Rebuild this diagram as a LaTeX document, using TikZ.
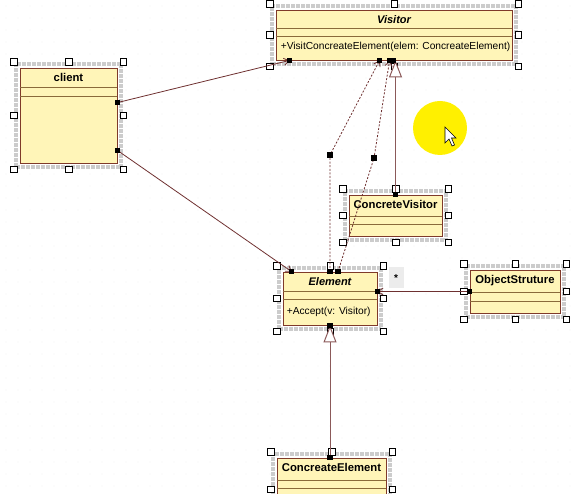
\documentclass[tikz,border=0pt]{standalone}
\usepackage{fontspec}
\setmainfont{Liberation Sans}
\usetikzlibrary{positioning, fit, calc, arrows.meta}
\definecolor{classfill}{HTML}{FFF5B8}
\definecolor{classline}{HTML}{7F3A2A}
\definecolor{sepline}{HTML}{8A6A3A}
\definecolor{wire}{HTML}{6E3030}
\definecolor{spot}{HTML}{FFF000}
\tikzstyle{classbox} = [rectangle, draw=classline, fill=classfill, line width=0.8pt, inner sep=0pt]
\tikzstyle{selframe} = [rectangle, draw=gray!40, line width=4pt, densely dotted, inner sep=4pt]
\tikzstyle{handle} = [rectangle, draw=black, fill=white, line width=0.5pt, minimum size=6.5pt, inner sep=0pt]
\tikzstyle{grip} = [rectangle, fill=black, minimum size=5.5pt, inner sep=0pt]
\tikzstyle{title} = [font=\fontsize{11.3}{13}\selectfont\bfseries, below=2.5pt]
\tikzstyle{abstract} = [title, font=\fontsize{11}{13}\selectfont\bfseries\itshape]
\tikzstyle{member} = [font=\fontsize{10.2}{12}\selectfont, anchor=west, inner sep=0pt]
\tikzstyle{assoc} = [draw=wire, line width=0.8pt, -{Straight Barb[length=5pt,width=7pt]}]
\tikzstyle{depend} = [assoc, dash pattern=on 2pt off 1.6pt]
\tikzstyle{inherit} = [draw=wire!80, line width=1pt, -{Triangle[open, fill=white, length=17pt, width=13pt]}]

\begin{document}
\begin{tikzpicture}[x=1pt, y=-1pt]
    \useasboundingbox (0,0) rectangle (581,494);
    \clip (0,0) rectangle (581,494);
    % grid of the canvas
    \foreach \gx in {6,18,...,576}
        \foreach \gy in {6,18,...,490}
            \fill[gray!30] (\gx,\gy) circle (0.4pt);

    % cursor spot
    \fill[spot] (440,128) circle (27pt);

    % classes
    \node (visitor) [classbox, minimum width=236pt, minimum height=50pt] at (394,35) {};
    \node [abstract] at (visitor.north) {Visitor};
    \node [member] at ($(visitor.north west)+(5,37)$) {+VisitConcreateElement(elem: ConcreateElement)};

    \node (client) [classbox, minimum width=97pt, minimum height=95pt] at (68.5,115.5) {};
    \node [title] at (client.north) {client};

    \node (cvisitor) [classbox, minimum width=93pt, minimum height=41pt] at (395.5,215.5) {};
    \node [title] at (cvisitor.north) {ConcreteVisitor};

    \node (element) [classbox, minimum width=94pt, minimum height=53pt] at (330,298.5) {};
    \node [abstract] at (element.north) {Element};
    \node [member] at ($(element.north west)+(4,40)$) {+Accept(v: Visitor)};

    \node (objstruct) [classbox, minimum width=90pt, minimum height=43pt] at (515,291.5) {};
    \node [title] at (objstruct.north) {ObjectStruture};

    \node (celement) [classbox, minimum width=109pt, minimum height=62pt] at (331.5,489) {};
    \node [title] at (celement.north) {ConcreateElement};

    % compartment lines
    \foreach \n/\a/\b in {visitor/19/27, client/20/29, cvisitor/22/30, element/20/28, objstruct/23/32, celement/23/31} {
        \draw [sepline, line width=0.7pt] ($(\n.north west)+(0,\a)$)--($(\n.north east)+(0,\a)$);
        \draw [sepline, line width=0.7pt] ($(\n.north west)+(0,\b)$)--($(\n.north east)+(0,\b)$);
    }

    % selection frames
    \foreach \n in {visitor, client, cvisitor, element, objstruct, celement} {
        \node (\n sel) [selframe, fit=(\n)] {};
        \foreach \a in {north west, north, north east, west, east, south west, south, south east}
            \node [handle] at (\n sel.\a) {};
    }

    % connection points
    \coordinate (clientA) at ($(client.north east)+(0,35)$);
    \coordinate (clientB) at ($(client.south east)+(0,-13)$);
    \coordinate (visitorA) at ($(visitor.south west)+(14,0)$);
    \coordinate (visitorB) at ($(visitor.south west)+(104,0)$);
    \coordinate (visitorC) at ($(visitor.south west)+(114,0)$);
    \coordinate (visitorD) at ($(visitor.south west)+(118,0)$);
    \coordinate (elementA) at ($(element.north west)+(9,0)$);
    \coordinate (elementB) at (element.north);
    \coordinate (elementC) at ($(element.north)+(8,0)$);
    \coordinate (elementD) at (objstruct.west -| element.east);
    \coordinate (celementA) at (element.south |- celement.north);
    \coordinate (bendA) at (330,155);
    \coordinate (bendB) at (374,158);

    % connectors
    \draw [assoc] (clientA)--(visitorA);
    \draw [assoc] (clientB)--(elementA);
    \draw [depend] (elementB)--(bendA)--(visitorB);
    \draw [depend] (elementC)--(bendB)--(visitorC);
    \draw [inherit] (cvisitor.north)--(cvisitor.north |- visitor.south);
    \draw [assoc] (objstruct.west)--(elementD);
    \draw [inherit] (celementA)--(element.south);
    \node (mult) [fill=gray!15, minimum width=15pt, minimum height=21pt, inner sep=1pt,
        font=\fontsize{10}{11}\selectfont\bfseries] at (396,278) {*};

    % connector grips
    \foreach \p in {clientA, clientB, visitorA, visitorB, visitorC, visitorD, elementA, elementB,
        elementC, elementD, bendA, bendB, cvisitor.north, objstruct.west, element.south, celementA}
        \node [grip] at (\p) {};

    % cursor
    \draw [fill=white, line width=0.6pt] (445,127)--(445,143)--(449,139)--(452,146)--(454.5,145)--(451.5,138)--(456,138)--cycle;
\end{tikzpicture}
\end{document}
